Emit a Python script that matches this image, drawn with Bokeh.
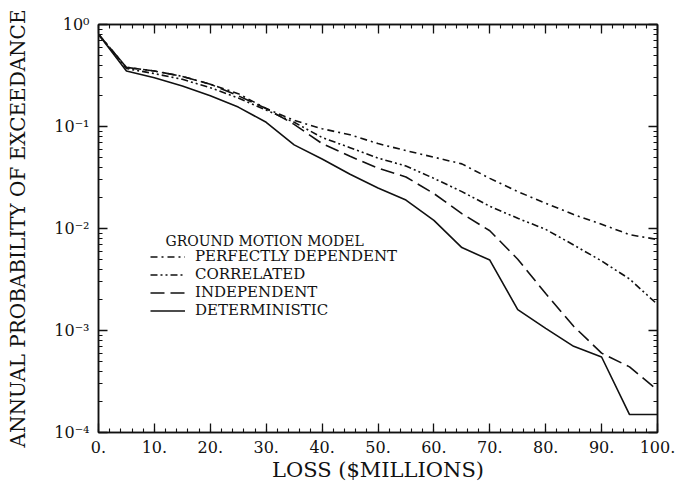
from bokeh.plotting import figure
from bokeh.models import FixedTicker, LinearAxis, LogAxis, Legend, LegendItem, Label
from bokeh.embed import file_html
from bokeh.resources import INLINE

# ---- data ----
loss = [0, 5, 10, 15, 20, 25, 30, 35, 40, 45, 50, 55, 60, 65, 70, 75, 80, 85, 90, 95, 100]
perfectly_dependent = [0.80, 0.38, 0.35, 0.31, 0.26, 0.21, 0.15, 0.115, 0.095, 0.083, 0.068,
                       0.058, 0.050, 0.043, 0.031, 0.023, 0.0177, 0.0137, 0.011, 0.0087, 0.0078]
correlated = [0.80, 0.37, 0.33, 0.29, 0.24, 0.19, 0.145, 0.11, 0.078, 0.062, 0.049,
              0.041, 0.031, 0.023, 0.0165, 0.0126, 0.0098, 0.0069, 0.0048, 0.0032, 0.0018]
independent = [0.80, 0.38, 0.35, 0.31, 0.26, 0.20, 0.15, 0.105, 0.068, 0.051, 0.039,
               0.032, 0.022, 0.014, 0.0095, 0.005, 0.0023, 0.0011, 0.0006, 0.00044, 0.00026]
deterministic = [0.80, 0.35, 0.30, 0.25, 0.20, 0.155, 0.11, 0.066, 0.048, 0.034, 0.025,
                 0.019, 0.012, 0.0065, 0.0049, 0.0016, 0.00105, 0.0007, 0.00055, 0.00015, 0.00015]

series_names = ["PERFECTLY DEPENDENT", "CORRELATED", "INDEPENDENT", "DETERMINISTIC"]
legend_title = "GROUND MOTION MODEL"
x_title = "LOSS ($MILLIONS)"
y_title = "ANNUAL PROBABILITY OF EXCEEDANCE"

x_ticks = [0, 10, 20, 30, 40, 50, 60, 70, 80, 90, 100]
x_tick_labels = ["0.", "10.", "20.", "30.", "40.", "50.", "60.", "70.", "80.", "90.", "100."]
y_ticks = [1e-4, 1e-3, 1e-2, 1e-1, 1.0]
y_tick_labels = ["10\u207b\u2074", "10\u207b\u00b3", "10\u207b\u00b2", "10\u207b\u00b9", "10\u2070"]

FONT = "DejaVu Serif"
INK = "#111111"

p = figure(width=675, height=488, y_axis_type="log",
           x_range=(0, 100), y_range=(1e-4, 1.0),
           output_backend="svg", toolbar_location=None,
           min_border_left=98, min_border_right=18,
           min_border_top=24, min_border_bottom=56)
p.grid.visible = False
p.outline_line_color = INK
p.outline_line_width = 1.5
p.background_fill_color = "white"
p.border_fill_color = "white"

x_ticker = FixedTicker(ticks=x_ticks, minor_ticks=list(range(0, 101, 2)))
y_ticker = FixedTicker(ticks=y_ticks,
                       minor_ticks=[m * 10.0 ** e for e in range(-4, 0) for m in range(2, 10)])


def style(ax):
    ax.major_tick_in = 9
    ax.major_tick_out = 0
    ax.minor_tick_in = 4
    ax.minor_tick_out = 0
    ax.axis_line_color = INK
    ax.axis_line_width = 1.5
    ax.major_tick_line_color = INK
    ax.major_tick_line_width = 1.3
    ax.minor_tick_line_color = INK
    ax.minor_tick_line_width = 1.1
    ax.major_label_text_font = FONT
    ax.major_label_text_color = INK
    ax.axis_label_text_font = FONT
    ax.axis_label_text_font_style = "normal"
    ax.axis_label_text_color = INK


xa = p.xaxis[0]
xa.ticker = x_ticker
xa.major_label_overrides = dict(zip(x_ticks, x_tick_labels))
style(xa)
xa.major_label_text_font_size = "16px"
xa.major_label_standoff = 8
xa.axis_label = x_title
xa.axis_label_text_font_size = "21px"
xa.axis_label_standoff = 2

ya = p.yaxis[0]
ya.ticker = y_ticker
ya.major_label_overrides = dict(zip(y_ticks, y_tick_labels))
style(ya)
ya.major_label_text_font_size = "16px"
ya.major_label_standoff = 9
ya.axis_label = y_title
ya.axis_label_text_font_size = "20px"
ya.axis_label_standoff = 21

top = LinearAxis(ticker=x_ticker)
style(top)
top.major_label_text_font_size = "1px"
top.major_label_text_alpha = 0
top.major_label_standoff = 0
p.add_layout(top, "above")

right = LogAxis(ticker=y_ticker)
style(right)
right.major_label_text_font_size = "1px"
right.major_label_text_alpha = 0
right.major_label_standoff = 0
p.add_layout(right, "right")

dashes = ["7 4 2 4", "7 3 2 3 2 3", "14 6", "solid"]
all_series = [perfectly_dependent, correlated, independent, deterministic]
items = []
for name, vals, dash in zip(series_names, all_series, dashes):
    r = p.line(loss, vals, line_color=INK, line_width=1.6, line_dash=dash)
    items.append(LegendItem(label=name, renderers=[r]))

legend = Legend(items=items, location=(52, 113))
legend.label_text_font = FONT
legend.label_text_font_size = "15px"
legend.label_text_color = INK
legend.label_height = 15
legend.label_standoff = 10
legend.glyph_width = 35
legend.glyph_height = 15
legend.spacing = 0
legend.padding = 0
legend.margin = 0
legend.border_line_color = None
legend.background_fill_alpha = 0
p.add_layout(legend, "center")

title_label = Label(x=67, y=192, x_units="screen", y_units="screen", text=legend_title,
                    text_font=FONT, text_font_size="14px", text_color=INK,
                    text_baseline="middle", text_align="left")
p.add_layout(title_label)

open("out.html", "w").write(file_html(p, INLINE))
